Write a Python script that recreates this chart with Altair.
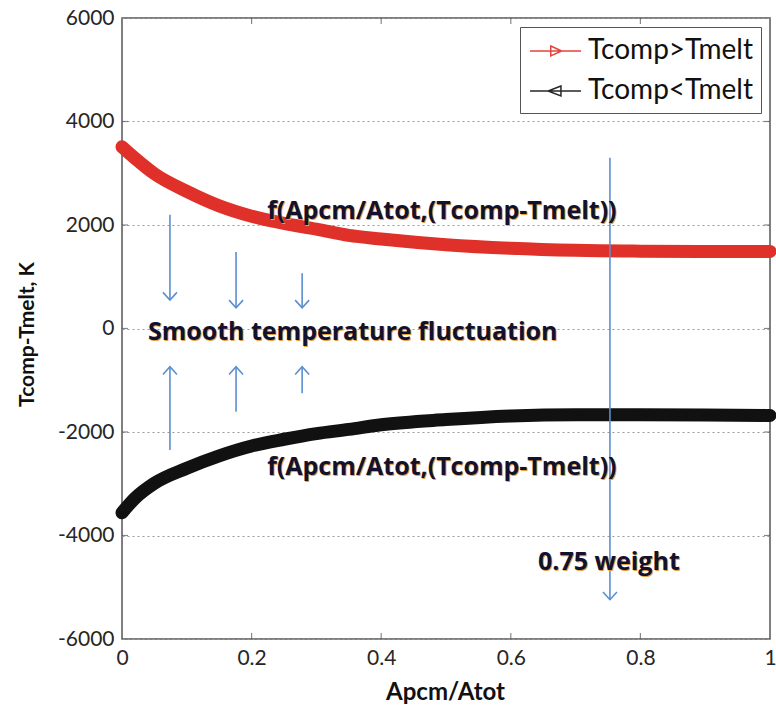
import altair as alt
import pandas as pd

# ---- data ----
xs = [0.0, 0.02, 0.05, 0.1, 0.15, 0.2, 0.25, 0.3, 0.35, 0.4, 0.5, 0.6, 0.7, 0.8, 0.9, 1.0]
red_vals = [3510, 3290, 2990, 2650, 2370, 2170, 2030, 1920, 1800, 1730, 1620, 1550, 1510, 1495, 1490, 1490]
black_vals = [-3560, -3280, -2990, -2700, -2460, -2270, -2140, -2030, -1950, -1860, -1760, -1690, -1665, -1665, -1670, -1680]
series_names = ["Tcomp>Tmelt", "Tcomp<Tmelt"]
series_colors = ["#e0302a", "#111111"]

x_ticks = [0, 0.2, 0.4, 0.6, 0.8, 1.0]
y_ticks = [-6000, -4000, -2000, 0, 2000, 4000, 6000]

arrow_x = [0.074, 0.176, 0.278]
down_start = [2200, 1480, 1070]
down_end = [550, 400, 400]
up_start = [-2350, -1610, -1250]
up_end = [-740, -740, -740]

weight_x = [0.753]
weight_start = [3300]
weight_end = [-5240]

label_texts = ["f(Apcm/Atot,(Tcomp-Tmelt))", "f(Apcm/Atot,(Tcomp-Tmelt))",
               "Smooth temperature fluctuation", "0.75 weight"]
label_x = [0.224, 0.224, 0.040, 0.642]
label_y = [2270, -2680, -60, -4510]

# ---- tables ----
curves = pd.DataFrame(
    {"x": xs * 2,
     "y": red_vals + black_vals,
     "series": [series_names[0]] * len(xs) + [series_names[1]] * len(xs)}
)
arrows = pd.DataFrame({"x": arrow_x + arrow_x, "y1": down_start + up_start,
                       "y2": down_end + up_end,
                       "dir": ["down"] * 3 + ["up"] * 3})
weight = pd.DataFrame({"x": weight_x, "y1": weight_start, "y2": weight_end, "dir": ["down"]})
all_arrows = pd.concat([arrows, weight], ignore_index=True)
labels = pd.DataFrame({"x": label_x, "y": label_y, "text": label_texts})
xt = pd.DataFrame({"x": x_ticks[1:-1]})
yt = pd.DataFrame({"y": y_ticks[1:-1]})

FONT = "Lato"
TFONT = "Open Sans"
xscale = alt.Scale(domain=[0, 1], nice=False, zero=False)
yscale = alt.Scale(domain=[-6000, 6000], nice=False, zero=False)

color_scale = alt.Scale(domain=series_names, range=series_colors)
legend_paths = [
    "M-0.93,0L2.47,0M0.45,-0.33L1.18,0L0.45,0.33Z",
    "M-0.93,0L2.47,0M1.13,-0.33L0.27,0L1.13,0.33Z",
]

base = alt.Chart(curves)

line = base.mark_line(strokeWidth=13, interpolate="monotone", strokeCap="round").encode(
    x=alt.X("x:Q", scale=xscale,
            axis=alt.Axis(values=x_ticks, title="Apcm/Atot", grid=False, ticks=False,
                          domain=False, labelFlush=False, labelOverlap=False,
                          labelExpr="datum.value == 0 ? '0' : datum.value == 1 ? '1' : format(datum.value, '.1f')",
                          titleFontSize=24,
                          titleX=323, titleY=53, titleBaseline="middle", titleAlign="center")),
    y=alt.Y("y:Q", scale=yscale,
            axis=alt.Axis(values=y_ticks, title="Tcomp-Tmelt, K", grid=True, ticks=False,
                          domain=False, gridDash=[2, 3], gridColor="#9a9a9a",
                          labelExpr="'' + datum.value",
                          gridWidth=1.2, labelOverlap=False, titleFontSize=21,
                          titleX=-95, titleY=316, titleAngle=-90, titleBaseline="middle",
                          titleAlign="center")),
    color=alt.Color("series:N", scale=color_scale, title=None,
                    legend=alt.Legend(orient="none", legendX=398, legendY=9,
                                      fillColor="white", strokeColor="#555555",
                                      padding=8, rowPadding=10,
                                      labelFont=FONT, labelFontSize=28, labelColor="#111111",
                                      labelOffset=28, symbolSize=900, symbolStrokeWidth=1.5,
                                      labelLimit=300)),
    detail="series:N",
)

pts = base.mark_point(filled=False, size=30, strokeWidth=1, opacity=0.9).encode(
    x=alt.X("x:Q", scale=xscale),
    y=alt.Y("y:Q", scale=yscale),
    color=alt.Color("series:N", scale=color_scale, title=None),
    shape=alt.Shape("series:N", scale=alt.Scale(domain=series_names, range=legend_paths), title=None),
)

# inward tick marks (clipped to the plot area)
def tick_layer(df, orient, enc):
    return alt.Chart(df).mark_tick(orient=orient, size=12, color="#555555",
                                   thickness=1.2, clip=True).encode(**enc)

ticks_bottom = tick_layer(xt, "vertical", dict(x=alt.X("x:Q", scale=xscale), y=alt.datum(-6000, scale=yscale)))
ticks_top = tick_layer(xt, "vertical", dict(x=alt.X("x:Q", scale=xscale), y=alt.datum(6000, scale=yscale)))
ticks_left = tick_layer(yt, "horizontal", dict(y=alt.Y("y:Q", scale=yscale), x=alt.datum(0, scale=xscale)))
ticks_right = tick_layer(yt, "horizontal", dict(y=alt.Y("y:Q", scale=yscale), x=alt.datum(1, scale=xscale)))

ARROW = "#5b8fd0"
shafts = alt.Chart(all_arrows).mark_rule(color=ARROW, strokeWidth=1.6).encode(
    x=alt.X("x:Q", scale=xscale), y=alt.Y("y1:Q", scale=yscale), y2="y2:Q")
heads_down = alt.Chart(all_arrows).transform_filter("datum.dir == 'down'").mark_point(
    shape="M-1,-1.1L0,0L1,-1.1", size=196, filled=False, color=ARROW, strokeWidth=1.6, opacity=1).encode(
    x=alt.X("x:Q", scale=xscale), y=alt.Y("y2:Q", scale=yscale))
heads_up = alt.Chart(all_arrows).transform_filter("datum.dir == 'up'").mark_point(
    shape="M-1,1.1L0,0L1,1.1", size=196, filled=False, color=ARROW, strokeWidth=1.6, opacity=1).encode(
    x=alt.X("x:Q", scale=xscale), y=alt.Y("y2:Q", scale=yscale))

text_shadow = alt.Chart(labels).mark_text(align="left", baseline="middle", font=TFONT, fontWeight="bold",
                                          fontSize=25, color="#e8a040", dx=1, dy=1).encode(
    x=alt.X("x:Q", scale=xscale), y=alt.Y("y:Q", scale=yscale), text="text:N")
text_main = alt.Chart(labels).mark_text(align="left", baseline="middle", font=TFONT, fontWeight="bold",
                                        fontSize=25, color="#12122e").encode(
    x=alt.X("x:Q", scale=xscale), y=alt.Y("y:Q", scale=yscale), text="text:N")

chart = alt.layer(
    line, pts, ticks_bottom, ticks_top, ticks_left, ticks_right,
    shafts, heads_down, heads_up, text_shadow, text_main
).properties(
    width=648, height=621,
    autosize=alt.AutoSizeParams(type="none"),
    padding={"left": 122, "top": 18, "right": 6, "bottom": 70},
    background="white",
).configure_view(
    stroke="#555555", strokeWidth=1.5
).configure_axis(
    labelFont=FONT, labelFontSize=21, labelColor="#262626", labelPadding=8,
    titleFont=FONT, titleFontWeight="bold", titleColor="#111111",
)

chart.save("out.html", embed_options={"renderer": "svg", "actions": False})
